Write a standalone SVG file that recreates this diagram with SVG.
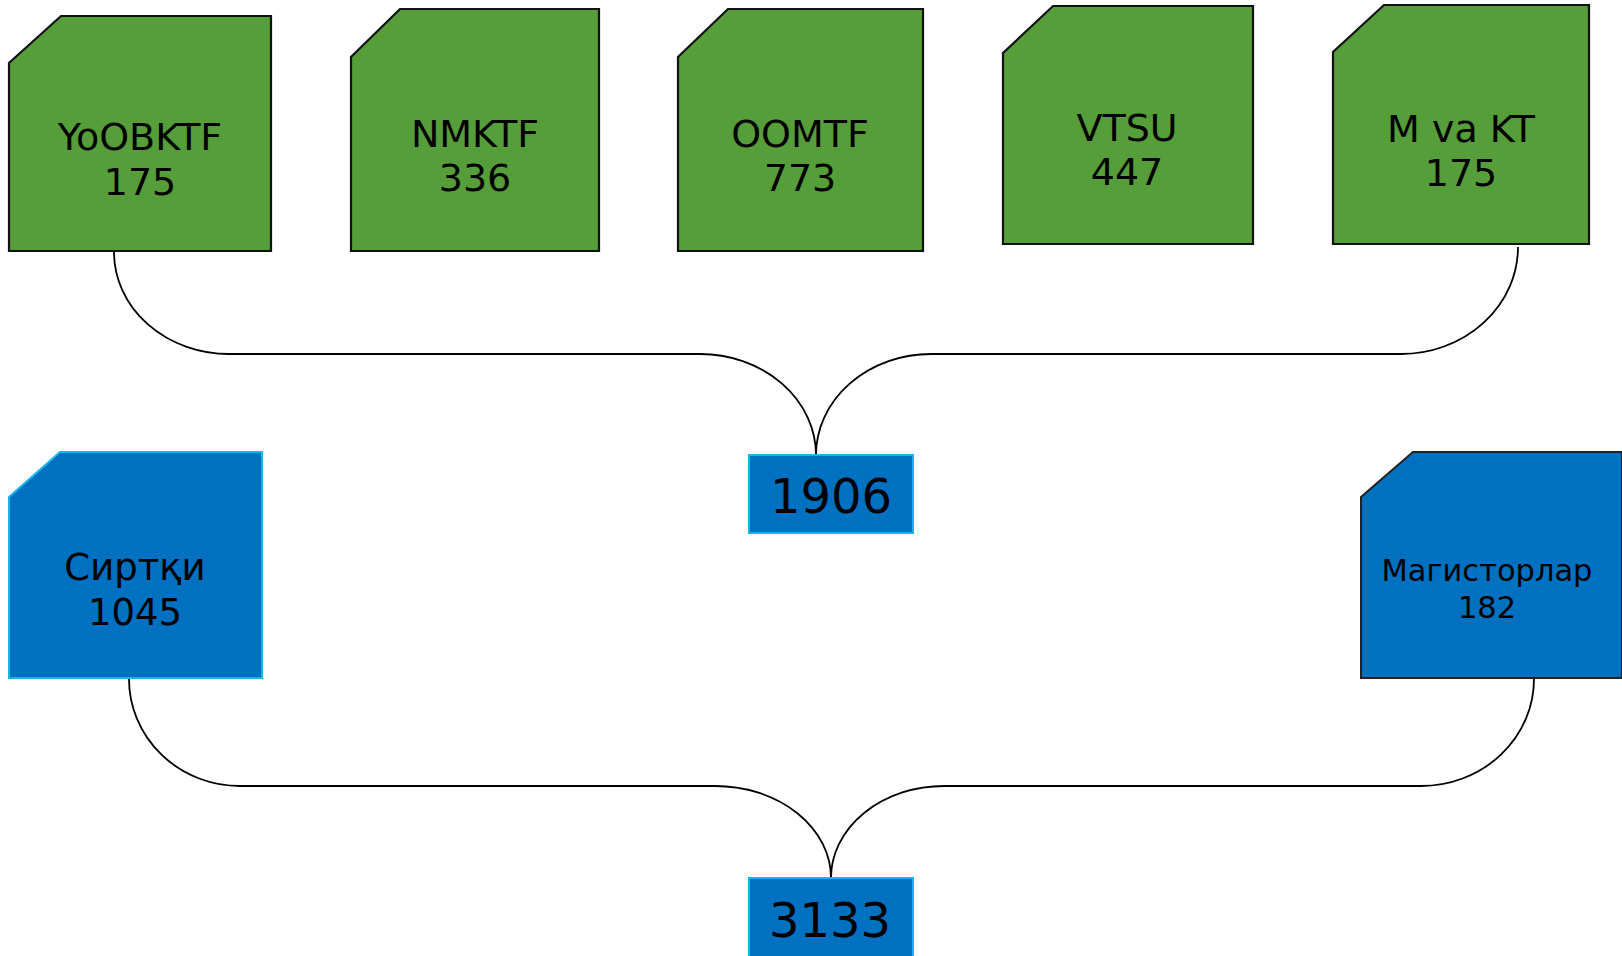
<svg xmlns="http://www.w3.org/2000/svg" width="1622" height="956" viewBox="0 0 1622 956">
<style>
.g{fill:#559E39;stroke:#111;stroke-width:2.2}
.b{fill:#0070C0;stroke:#1AB4EC;stroke-width:2}
.bk{fill:#0070C0;stroke:#222;stroke-width:2}
text{font-family:"DejaVu Sans","Liberation Sans",sans-serif;fill:#000;text-anchor:middle}
.t{font-size:38px}
.t2{font-size:37px}
.s{font-size:30.5px}
.n{font-size:48px}
.c{fill:none;stroke:#000;stroke-width:1.8}
</style>
<rect width="1622" height="956" fill="#fff"/>
<g id="connectors">
<path class="c" d="M114,252 A115,102 0 0 0 229,354 L700,354 A116,101 0 0 1 816,455"/>
<path class="c" d="M1518,247 A117,107 0 0 1 1401,354 L931,354 A115,101 0 0 0 816,455"/>
<path class="c" d="M129,679 A111,107 0 0 0 240,786 L715,786 A116,92 0 0 1 831,878"/>
<path class="c" d="M1534,679 A113,107 0 0 1 1421,786 L944,786 A113,92 0 0 0 831,878"/>
</g>
<g id="n-yoobktf"><path class="g" d="M61,16 L271,16 L271,251 L9,251 L9,63 Z"/><text class="t" x="140" y="150">YoOBKTF</text><text class="t" x="140" y="195">175</text></g>
<g id="n-nmktf"><path class="g" d="M400,9 L599,9 L599,251 L351,251 L351,57 Z"/><text class="t" x="475" y="147">NMKTF</text><text class="t" x="475" y="191">336</text></g>
<g id="n-oomtf"><path class="g" d="M728,9 L923,9 L923,251 L678,251 L678,57 Z"/><text class="t" x="800" y="147">OOMTF</text><text class="t" x="800" y="191">773</text></g>
<g id="n-vtsu"><path class="g" d="M1053,6 L1253,6 L1253,244 L1003,244 L1003,53 Z"/><text class="t" x="1127" y="141">VTSU</text><text class="t" x="1127" y="185">447</text></g>
<g id="n-mvakt"><path class="g" d="M1384,5 L1589,5 L1589,244 L1333,244 L1333,52 Z"/><text class="t" x="1461" y="142">M va KT</text><text class="t" x="1461" y="186">175</text></g>
<g id="n-1906"><rect class="b" x="749" y="455" width="164" height="78"/><text class="n" x="831" y="513">1906</text></g>
<g id="n-sirtqi"><path class="b" d="M60,452 L262,452 L262,678 L9,678 L9,497 Z"/><text class="t2" x="135" y="580">Сиртқи</text><text class="t2" x="135" y="625">1045</text></g>
<g id="n-magistr"><path class="bk" d="M1413,452 L1622,452 L1622,678 L1361,678 L1361,497 Z"/><text class="s" x="1487" y="581">Магисторлар</text><text class="s" x="1487" y="618">182</text></g>
<g id="n-3133"><rect class="b" x="749" y="878" width="164" height="90"/><text class="n" x="830" y="937">3133</text></g>
</svg>
